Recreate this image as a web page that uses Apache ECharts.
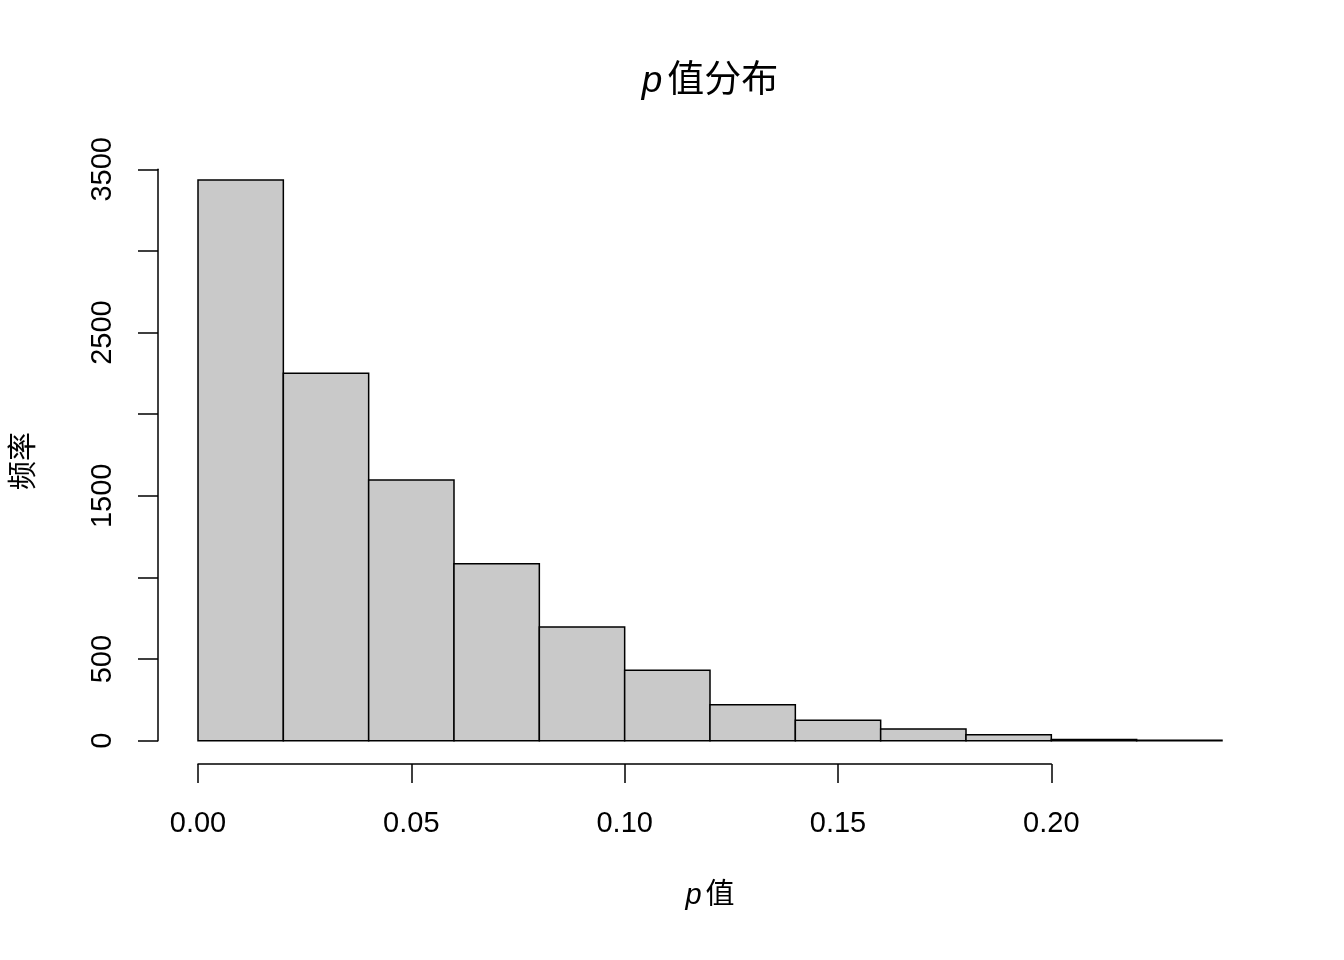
<!DOCTYPE html>
<html>
<head>
<meta charset="utf-8">
<script src="https://cdn.jsdelivr.net/npm/echarts@6/dist/echarts.min.js"></script>
<style>
  html, body { margin: 0; padding: 0; background: #fff; }
  #main { width: 1344px; height: 960px; }
</style>
</head>
<body>
<div id="main"></div>
<script>
// histogram bins (p value breaks) and their counts
const binBreaks = [0.00, 0.02, 0.04, 0.06, 0.08, 0.10, 0.12, 0.14, 0.16, 0.18, 0.20, 0.22, 0.24];
const counts = [3434, 2250, 1597, 1084, 696, 431, 220, 125, 72, 37, 8, 2];
const xTicks = [0.00, 0.05, 0.10, 0.15, 0.20];
const yLabels = [0, 500, 1500, 2500, 3500];

const font = "'Liberation Sans', Arial, 'Noto Sans CJK SC', sans-serif";

// [start, end, count] for each bar
const bins = counts.map((c, i) => [binBreaks[i], binBreaks[i + 1], c]);

let myChart = echarts.init(document.getElementById("main"));

let options = {
  backgroundColor: "#fff",
  animation: false,
  title: {
    text: "{i|p}值分布",
    left: 705,
    top: 58,
    textAlign: "center",
    textStyle: {
      fontFamily: font,
      fontSize: 37,
      fontWeight: "normal",
      color: "#000",
      rich: { i: { fontFamily: font, fontSize: 37, fontStyle: "italic", color: "#000", padding: [0, 5, 0, 0] } },
    },
  },
  grid: [
    { left: 198, width: 1024, top: 169.3, bottom: 219.3 },
    // separate grid only for the shorter R-style x axis (0 to 0.20)
    { left: 198, width: 853.33, top: 741, height: 23 },
  ],
  xAxis: [
    {
      gridIndex: 0,
      type: "value",
      min: 0,
      max: 0.24,
      name: "{i|p}值",
      nameLocation: "middle",
      nameGap: 141,
      nameTextStyle: {
        fontFamily: font,
        fontSize: 29,
        color: "#000",
        rich: { i: { fontFamily: font, fontSize: 29, fontStyle: "italic", color: "#000", padding: [0, 4, 0, 0] } },
      },
      axisLine: { show: false },
      axisTick: { show: false },
      axisLabel: { show: false },
      splitLine: { show: false },
    },
    {
      gridIndex: 1,
      type: "value",
      min: 0,
      max: 0.2,
      interval: 0.05,
      position: "bottom",
      axisLine: { show: true, onZero: false, lineStyle: { color: "#000", width: 1.5 } },
      axisTick: { show: true, inside: false, length: 19, lineStyle: { color: "#000", width: 1.5 } },
      axisLabel: {
        margin: 45,
        fontFamily: font,
        fontSize: 29,
        color: "#000",
        formatter: (v) => (xTicks.includes(Math.round(v * 100) / 100) ? v.toFixed(2) : ""),
      },
      splitLine: { show: false },
    },
  ],
  yAxis: [
    {
      gridIndex: 0,
      type: "value",
      min: 0,
      max: 3500,
      interval: 500,
      position: "left",
      offset: 40,
      name: "频率",
      nameLocation: "middle",
      nameRotate: 90,
      nameGap: 118,
      nameTextStyle: { fontFamily: font, fontSize: 29, color: "#000", padding: [0, 12, 0, 0] },
      axisLine: { show: true, onZero: false, lineStyle: { color: "#000", width: 1.5 } },
      axisTick: { show: true, inside: false, length: 20, lineStyle: { color: "#000", width: 1.5 } },
      axisLabel: {
        rotate: 90,
        margin: 40,
        fontFamily: font,
        fontSize: 29,
        color: "#000",
        formatter: (v) => (yLabels.includes(v) ? String(v) : ""),
      },
      splitLine: { show: false },
    },
    { gridIndex: 1, type: "value", show: false },
  ],
  series: [
    {
      type: "custom",
      xAxisIndex: 0,
      yAxisIndex: 0,
      data: bins,
      renderItem: (params, api) => {
        const p0 = api.coord([api.value(0), 0]);
        const p1 = api.coord([api.value(1), api.value(2)]);
        return {
          type: "rect",
          shape: { x: p0[0], y: p1[1], width: p1[0] - p0[0], height: p0[1] - p1[1] },
          style: { fill: "#c9c9c9", stroke: "#000", lineWidth: 1.5 },
        };
      },
    },
  ],
};

myChart.setOption(options);
</script>
</body>
</html>
